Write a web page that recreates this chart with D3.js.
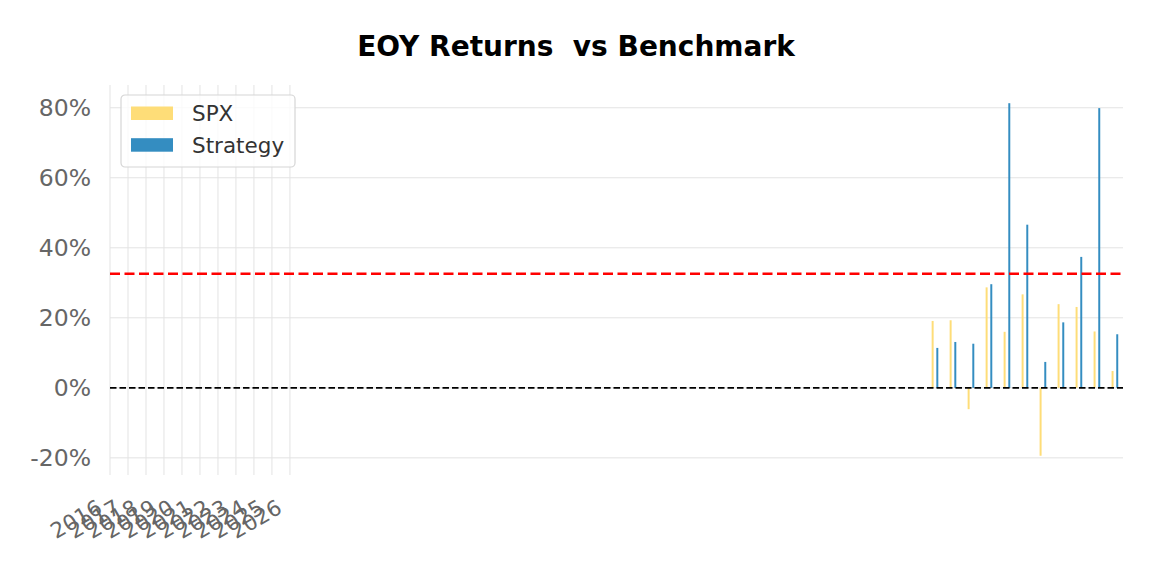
<!DOCTYPE html>
<html>
<head>
<meta charset="utf-8">
<script src="https://cdn.jsdelivr.net/npm/d3@7"></script>
<style>
  body { margin: 0; background: #fff; }
  text { font-family: "DejaVu Sans", sans-serif; }
</style>
</head>
<body>
<svg id="chart" width="1152" height="576"></svg>
<script>
const years = [2016, 2017, 2018, 2019, 2020, 2021, 2022, 2023, 2024, 2025, 2026];
const spx = [19.1, 19.3, -6.1, 28.7, 16.0, 26.7, -19.4, 23.9, 23.1, 16.1, 4.8];
const strategy = [11.4, 13.1, 12.6, 29.6, 81.3, 46.6, 7.4, 18.7, 37.4, 79.9, 15.3];
const avgReturn = 32.6;
const yTicks = [-20, 0, 20, 40, 60, 80];
const barStart = 45.85; // bars sit far right of the year ticks, as in the original

const svg = d3.select("#chart");
const margin = { top: 85, right: 29, bottom: 101, left: 110 };
const width = 1152 - margin.left - margin.right;
const height = 576 - margin.top - margin.bottom;

const chart = svg.append("g")
  .attr("transform", `translate(${margin.left}, ${margin.top})`);

const x = d3.scaleLinear().domain([0, 56.3]).range([0, width]);
const y = d3.scaleLinear().domain([-24.9, 86.5]).range([height, 0]);

// grid
chart.append("g")
  .selectAll("line")
  .data(yTicks)
  .join("line")
  .attr("x1", 0).attr("x2", width)
  .attr("y1", d => y(d)).attr("y2", d => y(d))
  .attr("stroke", "#e3e3e3").attr("stroke-width", 1);

chart.append("g")
  .selectAll("line")
  .data(years)
  .join("line")
  .attr("x1", (d, i) => x(i)).attr("x2", (d, i) => x(i))
  .attr("y1", 0).attr("y2", height)
  .attr("stroke", "#e3e3e3").attr("stroke-width", 1);

// y axis labels
const yAxis = chart.append("g")
  .call(d3.axisLeft(y).tickValues(yTicks).tickFormat(d => d + "%").tickSize(0).tickPadding(19));
yAxis.select(".domain").remove();
yAxis.selectAll("text")
  .attr("font-size", 23.5)
  .attr("fill", "#666")
  .style("font-family", "DejaVu Sans");

// x axis labels
const xAxis = chart.append("g")
  .attr("transform", `translate(0, ${height})`)
  .call(d3.axisBottom(x).tickValues(d3.range(years.length)).tickFormat(i => years[i]).tickSize(0));
xAxis.select(".domain").remove();
xAxis.selectAll("text")
  .attr("font-size", 21.5)
  .attr("fill", "#666")
  .style("font-family", "DejaVu Sans")
  .attr("text-anchor", "end")
  .attr("x", 0).attr("y", 0)
  .attr("dy", 0)
  .attr("transform", "translate(-7, 37) rotate(-30)");

// bars
const bw = 0.11;
const offset = 0.13;
chart.append("g")
  .selectAll("rect")
  .data(spx)
  .join("rect")
  .attr("x", (d, i) => x(barStart + i - offset - bw / 2))
  .attr("width", x(bw) - x(0))
  .attr("y", d => y(Math.max(0, d)))
  .attr("height", d => Math.abs(y(d) - y(0)))
  .attr("fill", "#fedd78");

chart.append("g")
  .selectAll("rect")
  .data(strategy)
  .join("rect")
  .attr("x", (d, i) => x(barStart + i + offset - bw / 2))
  .attr("width", x(bw) - x(0))
  .attr("y", d => y(Math.max(0, d)))
  .attr("height", d => Math.abs(y(d) - y(0)))
  .attr("fill", "#348dc1");

// zero line and average line
chart.append("line")
  .attr("x1", 0).attr("x2", width)
  .attr("y1", y(0)).attr("y2", y(0))
  .attr("stroke", "#000").attr("stroke-width", 1.6)
  .attr("stroke-dasharray", "6.5,3");

chart.append("line")
  .attr("x1", 0).attr("x2", width)
  .attr("y1", y(avgReturn)).attr("y2", y(avgReturn))
  .attr("stroke", "red").attr("stroke-width", 2.5)
  .attr("stroke-dasharray", "10,4.5");

// legend
const legend = svg.append("g").attr("transform", "translate(121, 95)");
legend.append("rect")
  .attr("width", 174).attr("height", 72)
  .attr("rx", 4)
  .attr("fill", "#fff").attr("fill-opacity", 0.8)
  .attr("stroke", "#d6d6d6").attr("stroke-width", 1.2);

const items = [{ name: "SPX", color: "#fedd78" }, { name: "Strategy", color: "#348dc1" }];
items.forEach((it, i) => {
  legend.append("rect")
    .attr("x", 10).attr("y", 11.5 + i * 31.7)
    .attr("width", 42).attr("height", 13.5)
    .attr("fill", it.color);
  legend.append("text")
    .attr("x", 71).attr("y", 26 + i * 31.7)
    .attr("font-size", 21.5)
    .attr("fill", "#333")
    .text(it.name);
});

// title
svg.append("text")
  .attr("x", 576).attr("y", 56)
  .attr("text-anchor", "middle")
  .attr("font-size", 28)
  .attr("font-weight", "bold")
  .attr("fill", "#000")
  .style("white-space", "pre")
  .text("EOY Returns  vs Benchmark");
</script>
</body>
</html>
